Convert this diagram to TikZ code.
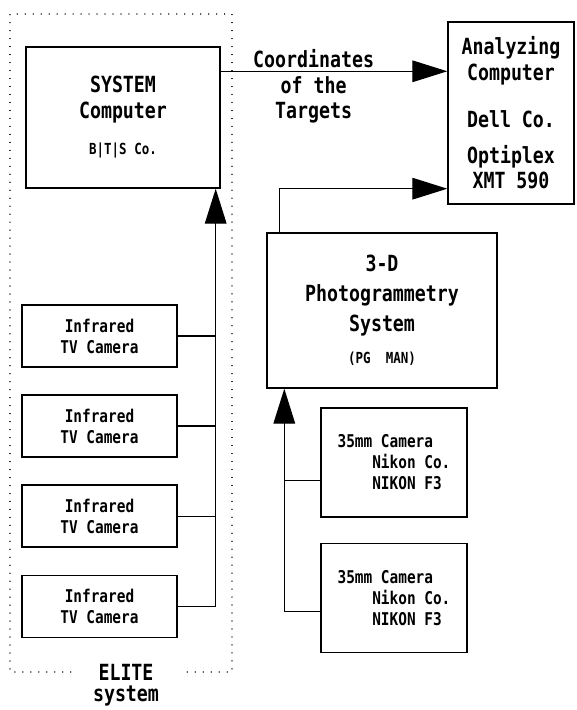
\documentclass[tikz,border=0pt]{standalone}
\usepackage{fontspec}
\usepackage{tikz}
\usetikzlibrary{arrows.meta, positioning, calc}
\newfontfamily\gothic[FakeStretch=0.82]{DejaVu Sans Mono}
\newcommand{\bigtxt}{\fontsize{19}{21.5}\selectfont}
\newcommand{\smalltxt}{\fontsize{15}{18}\selectfont}
\newcommand{\tinytxt}{\fontsize{13}{14}\selectfont}

\begin{document}
\begin{tikzpicture}[
	every node/.style={font=\gothic\bfseries\bigtxt, align=center},
	unit/.style={rectangle, draw=black, line width=1.2pt, inner sep=4pt},
	camera/.style={unit, font=\gothic\bfseries\smalltxt, minimum width=4.65cm, minimum height=1.86cm},
	nikon/.style={unit, font=\gothic\bfseries\smalltxt, align=left, minimum width=4.38cm, minimum height=3.27cm},
	link/.style={line width=1pt},
	bigarrow/.style={-{Triangle[length=1.05cm, width=0.65cm]}, line width=1pt},
	elitebox/.style={line width=1pt, line cap=round, dash pattern=on 0.01pt off 6.8pt}
]
\useasboundingbox (0,0) rectangle (17.28,21.3);

% Computers
\node[unit, minimum width=5.82cm, minimum height=4.23cm] (syscomp) at (3.69,17.775)
	{SYSTEM\\Computer\\[0.35cm]{\tinytxt B|T|S Co.}};
\node[unit, minimum width=3.78cm, minimum height=5.46cm] (analyz) at (15.33,17.91)
	{Analyzing\\Computer\\[0.66cm]Dell Co.\\[0.33cm]Optiplex\\XMT 590};

% Photogrammetry system and its cameras
\node[unit, minimum width=6.9cm, minimum height=4.65cm] (photo) at (11.46,11.985)
	{3-D\\[4pt]Photogrammetry\\[4pt]System\\[6pt]{\tinytxt (PG~~MAN)}};
\node[nikon] (nik1) at (11.82,7.425) {35mm Camera\\\phantom{35mm}Nikon Co.\\\phantom{35mm}NIKON F3};
\node[nikon, below=0.75cm of nik1] (nik2) {35mm Camera\\\phantom{35mm}Nikon Co.\\\phantom{35mm}NIKON F3};

% Infrared cameras of the ELITE system
\node[camera] (ir1) at (2.985,11.22) {Infrared\\TV Camera};
\foreach \i [remember=\i as \j (initially 1)] in {2,3,4}
	\node[camera, below=0.8cm of ir\j] (ir\i) {Infrared\\TV Camera};

% ELITE frame
\node[minimum width=3.3cm, inner sep=0pt] (elite) at (3.78,1.14) {ELITE};
\node[below=0.15cm of elite, inner sep=0pt] (elitesub) {system};
\draw[elitebox] (elite.west) -| (0.3,20.88) -| (6.96,1.14) -- (elite.east);

% Arrows
\coordinate (coordout) at ([yshift=-0.75cm]syscomp.north east);
\draw[bigarrow] (coordout) -- (coordout -| analyz.west)
	node[pos=0.41, yshift=-0.45cm] {Coordinates\\of the\\Targets};
\draw[bigarrow] ([xshift=0.4cm]photo.north west) |- ([yshift=0.48cm]analyz.south west);

\coordinate (irbus) at ([xshift=-0.15cm]syscomp.south east);
\draw[bigarrow] (ir4.east) -| (irbus);
\foreach \i in {1,2,3}
	\draw[link] (ir\i.east) -- (ir\i.east -| irbus);

\coordinate (nikbus) at ([xshift=0.54cm]photo.south west);
\draw[bigarrow] ([yshift=-0.4cm]nik2.west) -| (nikbus);
\coordinate (nikbranch) at ([yshift=-0.53cm]nik1.west);
\draw[link] (nikbranch) -- (nikbranch -| nikbus);

\end{tikzpicture}
\end{document}
